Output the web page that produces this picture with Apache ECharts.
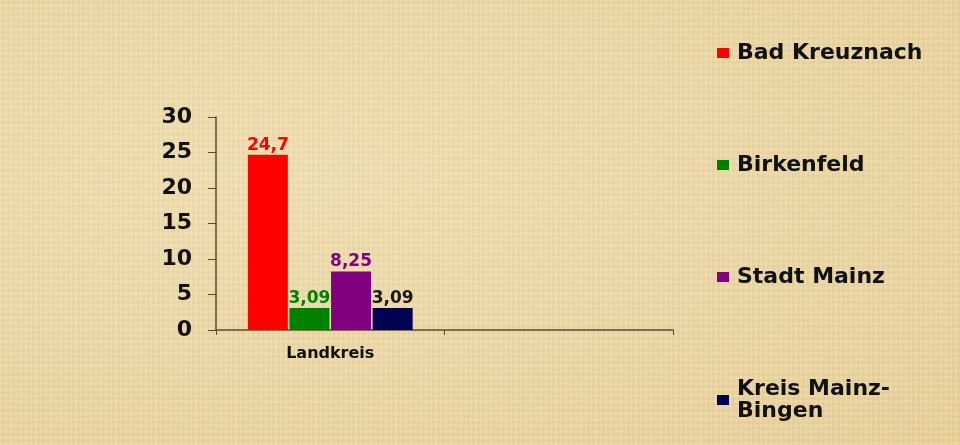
<!DOCTYPE html>
<html>
<head>
<meta charset="utf-8">
<script src="https://cdn.jsdelivr.net/npm/echarts@6/dist/echarts.min.js"></script>
<style>
  html, body { margin: 0; padding: 0; }
  #chart {
    width: 960px; height: 445px;
    background-color: #ebd6a2;
    background-image:
      repeating-linear-gradient(90deg, rgba(255,255,255,0.05) 0 2px, rgba(150,110,50,0.03) 2px 5px),
      repeating-linear-gradient(0deg, rgba(255,255,255,0.04) 0 3px, rgba(150,110,50,0.03) 3px 6px),
      radial-gradient(ellipse at 30% 40%, rgba(245,230,190,0.6), rgba(225,195,135,0.25));
  }
</style>
</head>
<body>
<div id="chart"></div>
<script>
// Kategorien und Werte
const categories = ['Landkreis', '']
const seriesNames = ['Bad Kreuznach', 'Birkenfeld', 'Stadt Mainz', 'Kreis Mainz-\nBingen']
const seriesValues = [[24.7], [3.09], [8.25], [3.09]]
const barColors = ['#ff0000', '#008000', '#800080', '#000050']
const labelColors = ['#ff0000', '#008000', '#800080', '#1a1a1a']

const font = 'DejaVu Sans, Verdana, sans-serif'
const chart = echarts.init(document.getElementById('chart'))

const series = seriesNames.map((name, i) => ({
  name: name,
  type: 'bar',
  data: seriesValues[i],
  barWidth: 40,
  barGap: '4%',
  itemStyle: { color: barColors[i] },
  label: {
    show: true,
    position: 'top',
    distance: 1,
    color: labelColors[i],
    fontFamily: font,
    fontWeight: 'bold',
    fontSize: 17,
    formatter: p => String(p.value).replace('.', ',')
  }
}))

chart.setOption({
  animation: false,
  backgroundColor: 'transparent',
  grid: { left: 216, right: 287, top: 117, bottom: 115, containLabel: false },
  legend: {
    orient: 'vertical',
    left: 712,
    top: 37,
    itemWidth: 12,
    itemHeight: 10,
    itemGap: 90,
    icon: 'rect',
    textStyle: {
      fontFamily: font,
      fontWeight: 'bold',
      fontSize: 22,
      color: '#111',
      lineHeight: 22,
      padding: [0, 0, 0, 3]
    }
  },
  xAxis: {
    type: 'category',
    data: categories,
    axisLine: { lineStyle: { color: '#5c4a2c', width: 1.5 } },
    axisTick: { show: true, length: 5, lineStyle: { color: '#5c4a2c' } },
    axisLabel: {
      margin: 16,
      color: '#111',
      fontFamily: font,
      fontWeight: 'bold',
      fontSize: 16
    }
  },
  yAxis: {
    type: 'value',
    min: 0,
    max: 30,
    interval: 5,
    splitLine: { show: false },
    axisLine: { show: true, lineStyle: { color: '#5c4a2c', width: 1.5 } },
    axisTick: { show: true, length: 8, lineStyle: { color: '#5c4a2c' } },
    axisLabel: {
      margin: 24,
      color: '#111',
      fontFamily: font,
      fontWeight: 'bold',
      fontSize: 22
    }
  },
  series: series
})
</script>
</body>
</html>
